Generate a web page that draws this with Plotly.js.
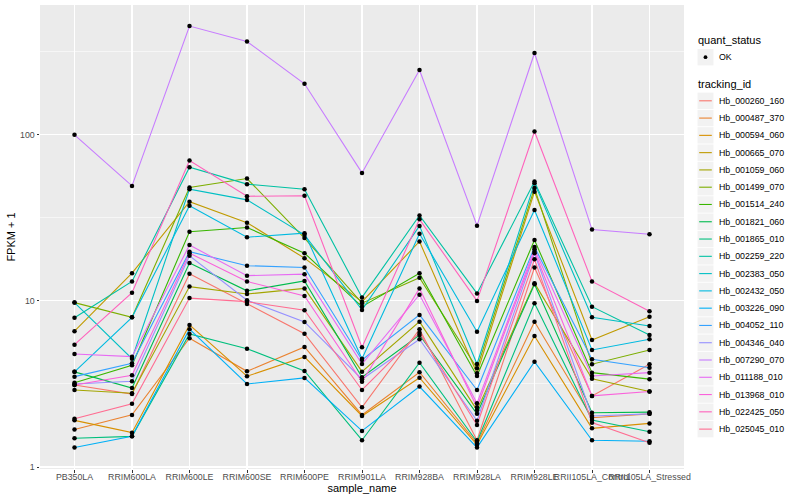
<!DOCTYPE html>
<html>
<head>
<meta charset="utf-8">
<script src="https://cdn.plot.ly/plotly-3.0.1.min.js"></script>
<style>html,body{margin:0;padding:0;background:#fff;}#chart{width:800px;height:500px;}</style>
</head>
<body>
<div id="chart"></div>
<script>
// ---- data (FPKM + 1) ----
const samples = ["PB350LA","RRIM600LA","RRIM600LE","RRIM600SE","RRIM600PE","RRIM901LA","RRIM928BA","RRIM928LA","RRIM928LE","RRII105LA_Control","RRII105LA_Stressed"];
const trackingIds = ["Hb_000260_160","Hb_000487_370","Hb_000594_060","Hb_000665_070","Hb_001059_060","Hb_001499_070","Hb_001514_240","Hb_001821_060","Hb_001865_010","Hb_002259_220","Hb_002383_050","Hb_002432_050","Hb_003226_090","Hb_004052_110","Hb_004346_040","Hb_007290_070","Hb_011188_010","Hb_013968_010","Hb_022425_050","Hb_025045_010"];
const quantStatus = ["OK"];

const Hb_000260_160 = [3.12, 2.75, 14.6, 9.6, 6.35, 2.29, 6.75, 1.45, 15.9, 2.68, 4.16];
const Hb_000487_370 = [1.68, 2.06, 5.96, 3.77, 5.28, 2.06, 3.72, 1.39, 7.5, 1.98, 2.09];
const Hb_000594_060 = [1.91, 1.61, 7.17, 3.52, 4.6, 2.03, 3.45, 1.36, 6.15, 1.71, 1.83];
const Hb_000665_070 = [6.57, 14.7, 39.6, 29.6, 18.1, 9.9, 22.8, 3.67, 45.5, 5.82, 8.04];
const Hb_001059_060 = [2.91, 2.78, 12.2, 11.0, 11.9, 3.75, 7.5, 2.2, 12.8, 3.40, 2.85];
const Hb_001499_070 = [9.77, 7.97, 48.2, 54.6, 23.9, 9.7, 13.8, 3.93, 47.8, 4.16, 5.07];
const Hb_001514_240 = [3.22, 4.10, 26.1, 27.7, 19.4, 9.24, 14.7, 3.53, 23.3, 3.70, 3.38];
const Hb_001821_060 = [3.74, 2.99, 16.9, 11.5, 13.2, 3.47, 6.24, 2.09, 12.6, 2.12, 2.14];
const Hb_001865_010 = [1.49, 1.53, 6.33, 5.16, 3.79, 1.45, 4.25, 1.42, 9.68, 1.92, 1.63];
const Hb_002259_220 = [7.93, 13.1, 63.9, 50.5, 47.1, 10.5, 32.7, 11.1, 52.3, 9.24, 6.24];
const Hb_002383_050 = [9.77, 4.49, 47.1, 40.6, 25.0, 8.83, 28.3, 4.17, 51.2, 7.97, 7.07];
const Hb_002432_050 = [3.74, 7.97, 37.4, 24.2, 25.6, 4.49, 25.4, 6.53, 35.3, 5.07, 5.88];
const Hb_003226_090 = [1.31, 1.53, 6.76, 3.16, 3.44, 1.65, 3.05, 1.31, 4.31, 1.45, 1.43];
const Hb_004052_110 = [3.50, 4.21, 19.8, 16.3, 15.9, 4.41, 8.24, 2.91, 21.1, 4.45, 3.96];
const Hb_004346_040 = [3.16, 3.28, 18.7, 10.1, 7.47, 3.38, 5.88, 1.90, 19.4, 2.03, 2.09];
const Hb_007290_070 = [100, 49.3, 452, 365, 203, 59, 246, 28.4, 311, 26.9, 25.2];
const Hb_011188_010 = [4.79, 4.62, 21.7, 14.2, 14.5, 4.17, 10.9, 2.42, 20.5, 3.53, 3.70];
const Hb_013968_010 = [3.12, 3.57, 19.4, 13.1, 10.7, 3.26, 11.9, 2.29, 19.8, 2.68, 2.85];
const Hb_022425_050 = [5.45, 11.2, 70, 42.7, 43.0, 5.26, 31, 10.0, 104.7, 13.1, 8.67];
const Hb_025045_010 = [1.95, 2.40, 10.4, 9.9, 8.79, 2.91, 6.44, 1.79, 17.8, 1.85, 1.40];

const seriesValues = [Hb_000260_160, Hb_000487_370, Hb_000594_060, Hb_000665_070, Hb_001059_060, Hb_001499_070, Hb_001514_240, Hb_001821_060, Hb_001865_010, Hb_002259_220, Hb_002383_050, Hb_002432_050, Hb_003226_090, Hb_004052_110, Hb_004346_040, Hb_007290_070, Hb_011188_010, Hb_013968_010, Hb_022425_050, Hb_025045_010];

const yTickVals = [1, 10, 100];
const yTickText = ["1", "10", "100"];
const yMinorVals = [3.1623, 31.623, 316.23];

// ---- style ----
const colors = ["#F8766D","#EA8331","#D89000","#C09B00","#A3A500","#7CAE00","#39B600","#00BB4E","#00BF7D","#00C1A3","#00BFC4","#00BAE0","#00B0F6","#35A2FF","#9590FF","#C77CFF","#E76BF3","#FA62DB","#FF62BC","#FF6C91"];
const FONT = "Liberation Sans, Arial, Helvetica, sans-serif";

const traces = trackingIds.map((id, i) => ({
  type: "scatter", mode: "lines", name: id,
  x: samples, y: seriesValues[i],
  line: {color: colors[i], width: 1.1},
  showlegend: false, hoverinfo: "skip"
}));

const px = [], py = [];
seriesValues.forEach(v => v.forEach((val, j) => { px.push(samples[j]); py.push(val); }));
traces.push({
  type: "scatter", mode: "markers", name: quantStatus[0],
  x: px, y: py,
  marker: {color: "black", size: 4.5, symbol: "circle"},
  showlegend: false
});

// ---- hand-drawn ggplot-style legend (pixel -> paper coords) ----
const M = {l: 40, r: 116, t: 5, b: 31};
const W = 800, H = 500;
const pw = W - M.l - M.r, ph = H - M.t - M.b;
const fx = p => (p - M.l) / pw;
const fy = p => (H - M.b - p) / ph;
const shapes = [], annotations = [];
const keyX0 = 697.5, keyX1 = 713.5, textX = 716.5, keyHalf = 8.2;

function addTitle(text, cy) {
  annotations.push({xref: "paper", yref: "paper", x: fx(696), y: fy(cy), xanchor: "left", yanchor: "middle",
    text: text, showarrow: false, font: {size: 11, color: "#000", family: FONT}});
}
function addKeyBox(cy) {
  shapes.push({type: "rect", xref: "paper", yref: "paper", x0: fx(keyX0), x1: fx(keyX1), y0: fy(cy + keyHalf), y1: fy(cy - keyHalf),
    fillcolor: "#F2F2F2", line: {width: 0}, layer: "above"});
}
function addLabel(text, cy) {
  annotations.push({xref: "paper", yref: "paper", x: fx(textX), y: fy(cy), xanchor: "left", yanchor: "middle",
    text: text, showarrow: false, font: {size: 8.8, color: "#000", family: FONT}});
}

addTitle("quant_status", 40.5);
quantStatus.forEach((s, i) => {
  const cy = 57.2 + i * 17.28;
  addKeyBox(cy);
  shapes.push({type: "circle", xref: "paper", yref: "paper", x0: fx(703.6), x1: fx(707.4), y0: fy(cy + 1.9), y1: fy(cy - 1.9),
    fillcolor: "black", line: {width: 0}, layer: "above"});
  addLabel(s, cy);
});

addTitle("tracking_id", 84.3);
trackingIds.forEach((id, i) => {
  const cy = 100.8 + i * 17.28;
  addKeyBox(cy);
  shapes.push({type: "line", xref: "paper", yref: "paper", x0: fx(699.2), x1: fx(711.8), y0: fy(cy), y1: fy(cy),
    line: {color: colors[i], width: 1.1}, layer: "above"});
  addLabel(id, cy);
});

const layout = {
  width: W, height: H,
  margin: M,
  paper_bgcolor: "white", plot_bgcolor: "#EBEBEB",
  font: {family: FONT, color: "#000"},
  showlegend: false,
  shapes: shapes, annotations: annotations,
  xaxis: {
    type: "category", categoryorder: "array", categoryarray: samples,
    range: [-0.6, 10.6], tickangle: 0,
    showgrid: true, gridcolor: "white", gridwidth: 1.1,
    ticks: "outside", ticklen: 2.5, tickcolor: "#333", tickwidth: 1,
    ticklabelstandoff: -3,
    tickfont: {size: 8.8, color: "#4D4D4D", family: FONT},
    zeroline: false, showline: false, automargin: false,
    title: {text: "sample_name", font: {size: 11, color: "#000"}, standoff: 0}
  },
  yaxis: {
    type: "log", range: [-0.012, 2.782],
    tickmode: "array", tickvals: yTickVals, ticktext: yTickText,
    showgrid: true, gridcolor: "white", gridwidth: 1.1,
    minor: {tickmode: "array", tickvals: yMinorVals, showgrid: true, gridcolor: "white", gridwidth: 0.55, ticks: ""},
    ticks: "outside", ticklen: 2.5, tickcolor: "#333", tickwidth: 1,
    tickfont: {size: 8.8, color: "#4D4D4D", family: FONT},
    zeroline: false, showline: false, automargin: false,
    title: {text: "FPKM + 1", font: {size: 11, color: "#000"}, standoff: 2}
  }
};

Plotly.newPlot("chart", traces, layout, {displayModeBar: false, staticPlot: true});
</script>
</body>
</html>
